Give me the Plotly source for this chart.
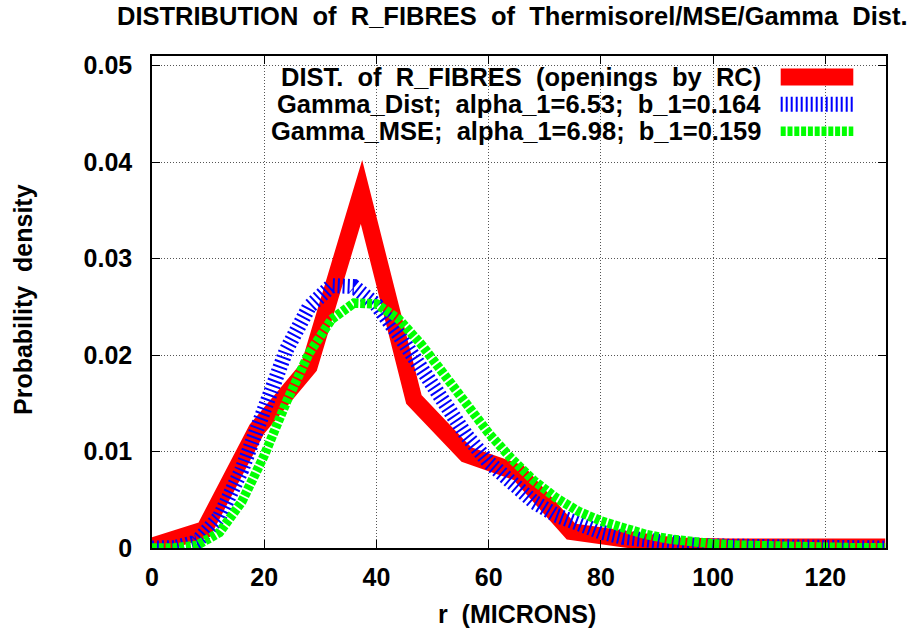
import plotly.graph_objects as go

# ---------------- data ----------------
x_hist = [0, 9.33, 18.67, 28.0, 37.33, 46.67, 56.0, 65.33, 74.67, 84.0,
          93.33, 102.67, 112.0, 121.33, 130.67]
y_hist = [0.0002, 0.0019, 0.0123, 0.0188, 0.0369, 0.0154, 0.0097, 0.0078,
          0.0017, 0.0011, 0.0002, 0.0001, 0.0001, 0.0001, 0.0001]

x_fit = [0, 4, 8, 12, 16, 20, 24, 28, 32, 36, 40, 44, 48, 52, 56, 60, 64, 68,
         72, 76, 80, 84, 88, 92, 96, 100, 104, 108, 112, 116, 120, 124, 128, 130.67]
y_gamma_dist = [0.0, 0.00003, 0.00065, 0.0032, 0.0081, 0.0145, 0.0206, 0.0250,
                0.0272, 0.0271, 0.0252, 0.0221, 0.0186, 0.0150, 0.0117, 0.0089,
                0.0066, 0.0048, 0.0034, 0.0024, 0.00165, 0.0011, 0.00075, 0.0005,
                0.00033, 0.00021, 0.00014, 0.00009, 0.00006, 0.00004, 0.00002,
                0.00001, 0.00001, 0.0]
y_gamma_mse = [0.0, 0.00001, 0.00027, 0.0016, 0.0048, 0.0096, 0.0152, 0.0202,
               0.0237, 0.0254, 0.0253, 0.0237, 0.0211, 0.0180, 0.0148, 0.0119,
               0.0093, 0.0070, 0.0052, 0.0038, 0.0028, 0.0020, 0.0014, 0.00095,
               0.00065, 0.00044, 0.0003, 0.0002, 0.00013, 0.00009, 0.00005,
               0.00004, 0.00002, 0.00002]

series_names = ["DIST. of R_FIBRES (openings by RC)",
                "Gamma_Dist; alpha_1=6.53; b_1=0.164",
                "Gamma_MSE; alpha_1=6.98; b_1=0.159"]
title_text = "DISTRIBUTION of R_FIBRES of Thermisorel/MSE/Gamma Dist."
x_label = "r (MICRONS)"
y_label = "Probability density"
x_tick_vals = [0, 20, 40, 60, 80, 100, 120]
x_tick_text = ["0", "20", "40", "60", "80", "100", "120"]
y_tick_vals = [0, 0.01, 0.02, 0.03, 0.04, 0.05]
y_tick_text = ["0", "0.01", "0.02", "0.03", "0.04", "0.05"]

# ---------------- layout constants ----------------
W, H = 919, 633
ML, MR, MT, MB = 152, 33, 56, 85
PW, PH = W - ML - MR, H - MT - MB
FONT = "Liberation Sans, Arial, sans-serif"


def px_x(px):
    return (px - ML) / PW


def px_y(py):
    return (H - MB - py) / PH


def wide(s, n=2):
    return s.replace(" ", "\u00a0" * n)


colors = ["#ff0000", "#0000ff", "#00ff00"]
widths = [17, 15, 9.5]
dashes = ["solid", "2px,3px", "5px,1.8px"]

fig = go.Figure()
fig.add_trace(go.Scatter(x=x_hist, y=y_hist, mode="lines", name=series_names[0],
                         line=dict(color=colors[0], width=widths[0], dash=dashes[0]),
                         showlegend=False, hoverinfo="skip"))
fig.add_trace(go.Scatter(x=x_fit, y=y_gamma_dist, mode="lines", name=series_names[1],
                         line=dict(color=colors[1], width=widths[1], dash=dashes[1]),
                         showlegend=False, hoverinfo="skip"))
fig.add_trace(go.Scatter(x=x_fit, y=y_gamma_mse, mode="lines", name=series_names[2],
                         line=dict(color=colors[2], width=widths[2], dash=dashes[2]),
                         showlegend=False, hoverinfo="skip"))

axis_common = dict(
    showline=True, linecolor="black", linewidth=1.5, mirror="ticks",
    ticks="inside", ticklen=8, tickwidth=1.2, tickcolor="black",
    showgrid=True, gridcolor="#555555", gridwidth=1, griddash="1px,2px",
    zeroline=False,
    tickfont=dict(family=FONT, size=25, color="black", weight="bold"),
)

fig.update_xaxes(range=[0, 130.8], tickvals=x_tick_vals, ticktext=x_tick_text,
                 ticklabelstandoff=6, **axis_common)
fig.update_yaxes(range=[0, 0.051], tickvals=y_tick_vals, ticktext=y_tick_text,
                 ticklabelstandoff=13, **axis_common)

shapes = [dict(type="rect", xref="paper", yref="paper",
               x0=px_x(196), x1=px_x(866), y0=px_y(145), y1=1,
               fillcolor="white", line=dict(width=0), layer="between")]

legend_rows = [77, 104.2, 131.3]
annotations = []
for i, name in enumerate(series_names):
    yy = px_y(legend_rows[i])
    shapes.append(dict(type="line", xref="paper", yref="paper",
                       x0=px_x(780.7), x1=px_x(853.3), y0=yy, y1=yy,
                       line=dict(color=colors[i], width=widths[i], dash=dashes[i])))
    annotations.append(dict(xref="paper", yref="paper", x=px_x(763), y=yy,
                            xanchor="right", yanchor="middle", showarrow=False,
                            text=wide(name),
                            font=dict(family=FONT, size=25.5, color="black", weight="bold")))

annotations.append(dict(xref="paper", yref="paper", x=px_x(517), y=px_y(614),
                        xanchor="center", yanchor="middle", showarrow=False,
                        text=wide(x_label),
                        font=dict(family=FONT, size=25, color="black", weight="bold")))
annotations.append(dict(xref="paper", yref="paper", x=px_x(23), y=px_y(300),
                        xanchor="center", yanchor="middle", showarrow=False,
                        textangle=-90, text=wide(y_label),
                        font=dict(family=FONT, size=25, color="black", weight="bold")))

fig.update_layout(
    width=W, height=H,
    margin=dict(l=ML, r=MR, t=MT, b=MB, pad=0),
    paper_bgcolor="white", plot_bgcolor="white",
    title=dict(text=wide(title_text, 2), xref="container", yref="container",
               x=117 / W, xanchor="left", y=1 - 16 / H, yanchor="middle",
               font=dict(family=FONT, size=25.5, color="black", weight="bold")),
    shapes=shapes, annotations=annotations,
    showlegend=False,
)

post = (
    "document.body.style.margin='0';"
    "document.querySelectorAll('.scatterlayer .js-line').forEach(function(p){"
    "p.style.strokeLinejoin='miter';p.style.strokeMiterlimit='10';});"
)
fig.write_html("out.html", config={"displayModeBar": False}, post_script=post)
